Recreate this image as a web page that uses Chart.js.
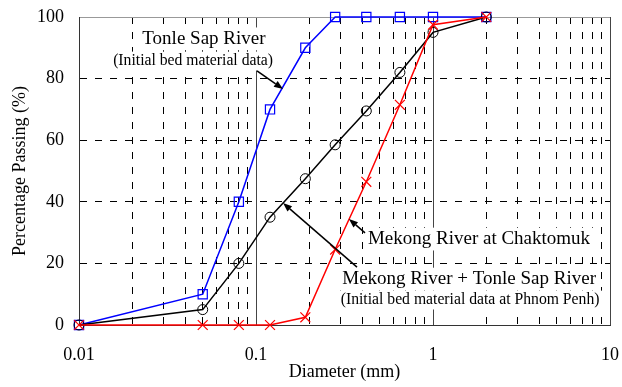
<!DOCTYPE html>
<html><head><meta charset="utf-8">
<script src="https://cdn.jsdelivr.net/npm/chart.js@4/dist/chart.umd.min.js"></script>
<style>html,body{margin:0;padding:0;background:#fff}#wrap{width:622px;height:387px;position:relative}</style>
</head><body><div id="wrap"><canvas id="c"></canvas></div>
<script>
// ---- data ----
const diameters = [0.01, 0.05, 0.08, 0.12, 0.19, 0.28, 0.42, 0.65, 1.0, 2.0];
const tonleSapRiver = [0, 10, 40, 70, 90, 100, 100, 100, 100, 100];
const mekongPlusTonleSap = [0, 5, 20, 35, 47.5, 58.5, 69.5, 82, 95, 100];
const mekongChaktomuk = [0, 0, 0, 0, 2.5, 24.5, 46.5, 71.5, 97.5, 100];
const xTickValues = [0.01, 0.1, 1, 10];
const xTickLabels = ['0.01', '0.1', '1', '10'];
const yTickValues = [0, 20, 40, 60, 80, 100];
const yTickLabels = ['0', '20', '40', '60', '80', '100'];
const xMinorMultipliers = [1, 2, 3, 4, 5, 6, 7, 8, 9];
const xTitle = 'Diameter (mm)';
const yTitle = 'Percentage Passing (%)';
const labelTexts = ['Tonle Sap River', '(Initial bed material data)', 'Mekong River at Chaktomuk',
  'Mekong River + Tonle Sap River', '(Initial bed material data at Phnom Penh)'];
// annotation anchors in data coordinates [x (mm), y (%)]
const labelAnchors = [[0.0508, 92.9], [0.0441, 85.7], [0.429, 27.9], [1.6, 14.9], [1.62, 8.1]];
const labelSizes = [19, 15.7, 19, 19, 15.7];
const labelAligns = ['center', 'center', 'left', 'center', 'center'];
const arrowFrom = [[0.1013, 82.5], [0.413, 29.9], [0.372, 18.8]];
const arrowTo = [[0.1421, 76.6], [0.335, 34.4], [0.1421, 39.6]];

Chart.defaults.font.family = '"Liberation Serif", "Times New Roman", serif';
Chart.defaults.color = '#000';

const isDecade = v => Math.abs(Math.log10(v) - Math.round(Math.log10(v))) < 1e-6;
const xGridValues = [];
[0.01, 0.1, 1].forEach(d => xMinorMultipliers.forEach(m => xGridValues.push(+(d * m).toPrecision(6))));
xGridValues.push(10);
const near = (a, b) => Math.abs(a - b) <= Math.abs(b) * 1e-6 + 1e-12;

function series(vals) { return diameters.map((d, i) => ({x: d, y: vals[i]})); }

const annotPlugin = {
  id: 'annot',
  beforeDatasetsDraw(chart) {
    const ctx = chart.ctx, xs = chart.scales.x, ys = chart.scales.y;
    ctx.save();
    labelTexts.forEach((t, i) => {
      const px = xs.getPixelForValue(labelAnchors[i][0]);
      const py = ys.getPixelForValue(labelAnchors[i][1]);
      ctx.font = labelSizes[i] + 'px "Liberation Serif", serif';
      const w = ctx.measureText(t).width;
      const left = labelAligns[i] === 'left' ? px : px - w / 2;
      const h = labelSizes[i] * 1.2;
      ctx.fillStyle = '#fff';
      ctx.fillRect(left - 3, py - h / 2, w + 6, h);
    });
    labelTexts.forEach((t, i) => {
      const px = xs.getPixelForValue(labelAnchors[i][0]);
      const py = ys.getPixelForValue(labelAnchors[i][1]);
      ctx.font = labelSizes[i] + 'px "Liberation Serif", serif';
      ctx.fillStyle = '#000';
      ctx.textAlign = labelAligns[i];
      ctx.textBaseline = 'middle';
      ctx.fillText(t, px, py);
    });
    ctx.restore();
  },
  afterDatasetsDraw(chart) {
    const ctx = chart.ctx, xs = chart.scales.x, ys = chart.scales.y;
    ctx.save();
    ctx.strokeStyle = '#000'; ctx.fillStyle = '#000'; ctx.lineWidth = 1.5;
    arrowFrom.forEach((f, i) => {
      const x1 = xs.getPixelForValue(f[0]), y1 = ys.getPixelForValue(f[1]);
      const x2 = xs.getPixelForValue(arrowTo[i][0]), y2 = ys.getPixelForValue(arrowTo[i][1]);
      const a = Math.atan2(y2 - y1, x2 - x1);
      const L = 9, W = 3.5;
      const bx = x2 - L * Math.cos(a), by = y2 - L * Math.sin(a);
      ctx.beginPath(); ctx.moveTo(x1, y1); ctx.lineTo(bx, by); ctx.stroke();
      ctx.beginPath();
      ctx.moveTo(x2, y2);
      ctx.lineTo(bx + W * Math.sin(a), by - W * Math.cos(a));
      ctx.lineTo(bx - W * Math.sin(a), by + W * Math.cos(a));
      ctx.closePath(); ctx.fill();
    });
    ctx.restore();
  }
};

new Chart(document.getElementById('c'), {
  type: 'line',
  data: {
    datasets: [
      {label: 'Mekong River at Chaktomuk', data: series(mekongChaktomuk), borderColor: '#ff0000',
       backgroundColor: 'rgba(0,0,0,0)', pointStyle: 'crossRot', pointRadius: 7, pointBorderWidth: 1.2,
       pointBorderColor: '#ff0000', borderWidth: 1.5, clip: false, tension: 0},
      {label: 'Mekong River + Tonle Sap River', data: series(mekongPlusTonleSap), borderColor: '#000',
       backgroundColor: 'rgba(0,0,0,0)', pointStyle: 'circle', pointRadius: 5, pointBorderWidth: 1,
       pointBorderColor: '#000', borderWidth: 1.5, clip: false, tension: 0},
      {label: 'Tonle Sap River', data: series(tonleSapRiver), borderColor: '#0000ff',
       backgroundColor: 'rgba(0,0,0,0)', pointStyle: 'rect', pointRadius: 6.5, pointBorderWidth: 1.2,
       pointBorderColor: '#0000ff', borderWidth: 1.5, clip: false, tension: 0}
    ]
  },
  options: {
    responsive: true, maintainAspectRatio: false, animation: false,
    layout: {padding: {left: 0, right: 12, top: 17, bottom: 0}},
    plugins: {legend: {display: false}, tooltip: {enabled: false}},
    scales: {
      x: {
        type: 'logarithmic', min: 0.01, max: 10,
        afterBuildTicks: s => { s.ticks = xGridValues.map(v => ({value: v})); },
        afterFit: s => { s.height = 62; },
        ticks: {
          autoSkip: false, maxRotation: 0, minRotation: 0, padding: 0, color: '#000', font: {size: 18},
          callback: v => { const i = xTickValues.findIndex(t => near(v, t)); return i >= 0 ? xTickLabels[i] : ''; }
        },
        grid: {
          drawTicks: true, tickLength: 19, tickColor: 'rgba(0,0,0,0)', tickWidth: 0, lineWidth: 1,
          color: c => (c.tick && isDecade(c.tick.value)) ? '#444' : '#000'
        },
        border: {
          display: true, color: '#333', width: 1,
          dash: c => (c.tick && !isDecade(c.tick.value)) ? [7, 8] : []
        },
        title: {display: true, text: xTitle, color: '#000', font: {size: 18}, padding: {top: 0, bottom: 4}}
      },
      y: {
        type: 'linear', min: 0, max: 100,
        afterBuildTicks: s => { s.ticks = yTickValues.map(v => ({value: v})); },
        afterFit: s => { s.width = 79; },
        ticks: {
          padding: 0, color: '#000', font: {size: 18},
          callback: v => { const i = yTickValues.indexOf(v); return i >= 0 ? yTickLabels[i] : ''; }
        },
        grid: {
          drawTicks: true, tickLength: 15, tickColor: 'rgba(0,0,0,0)', tickWidth: 0, lineWidth: 1,
          color: c => !c.tick ? '#000' : (c.tick.value === 100 ? '#999' : (c.tick.value === 0 ? '#333' : '#000'))
        },
        border: {
          display: true, color: '#333', width: 1,
          dash: c => (c.tick && c.tick.value !== 0 && c.tick.value !== 100) ? [7, 8] : []
        },
        title: {display: true, text: yTitle, color: '#000', font: {size: 18}, padding: {top: 9, bottom: 0}}
      }
    }
  },
  plugins: [annotPlugin]
});
</script></body></html>
